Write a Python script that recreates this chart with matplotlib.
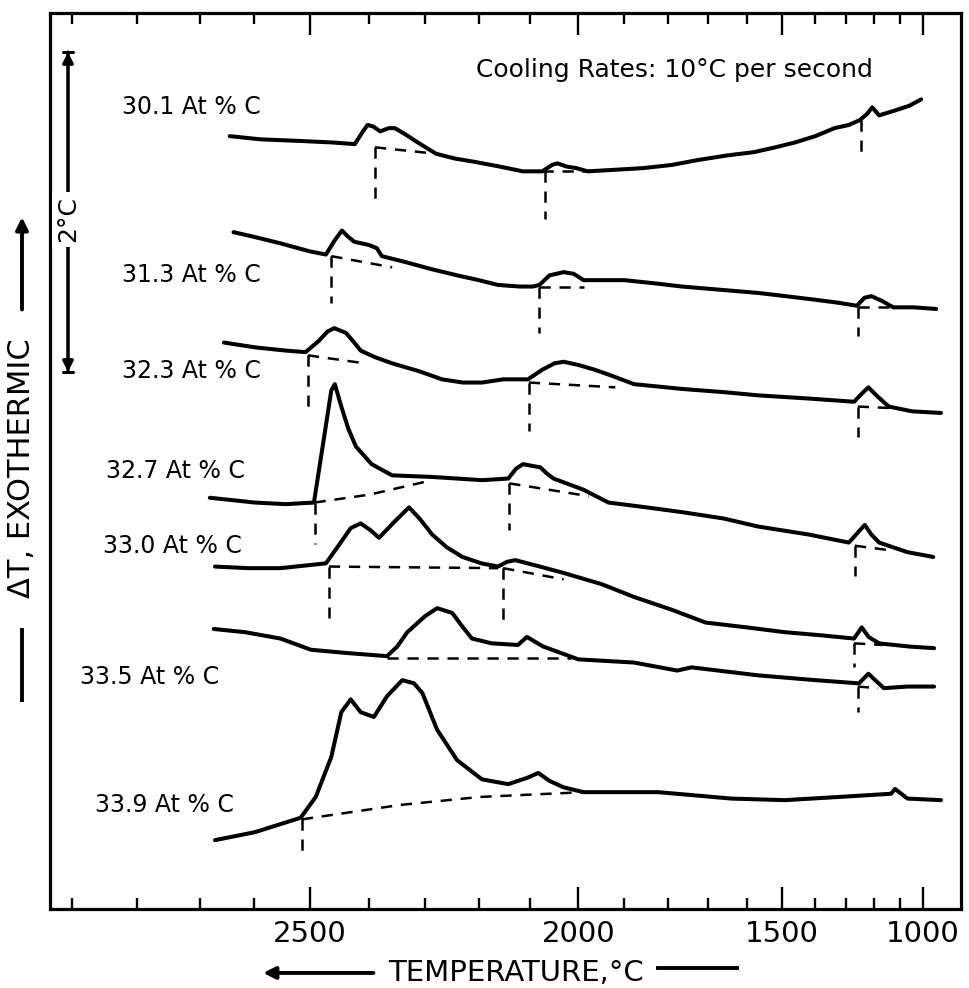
import numpy as np
import matplotlib
matplotlib.use("Agg")
import matplotlib.pyplot as plt
from matplotlib.transforms import blended_transform_factory

# DTA cooling curves, W-C alloys. Temperature in degC, dT in degC (offset per trace)

# the chart's temperature axis is not linear; T**2.1 reproduces the tick spacing
def fwd(t):
    t = np.asarray(t, dtype=float)
    return np.sign(t) * np.abs(t) ** 2.1

def inv(u):
    u = np.asarray(u, dtype=float)
    return np.sign(u) * np.abs(u) ** (1 / 2.1)

major_ticks = [2500, 2000, 1500, 1000]
minor_ticks = [2865, 2770, 2675, 2590, 2400, 2300, 2200, 2100, 1900, 1800,
               1700, 1600, 1400, 1300, 1200, 1100]

# ---- 30.1 At % C
T_301 = [2629, 2580, 2516, 2460, 2424, 2410, 2402, 2392, 2380, 2365, 2354, 2335,
         2313, 2280, 2245, 2209, 2160, 2114, 2075, 2055, 2044, 2025, 2004, 1980,
         1920, 1858, 1790, 1728, 1650, 1580, 1520, 1463, 1400, 1338, 1290, 1252,
         1225, 1207, 1181, 1120, 1060, 1008]
dT_301 = [4.83, 4.81, 4.80, 4.79, 4.78, 4.86, 4.90, 4.89, 4.86, 4.88, 4.88, 4.84,
          4.79, 4.72, 4.69, 4.67, 4.64, 4.61, 4.61, 4.65, 4.66, 4.64, 4.63, 4.61,
          4.62, 4.63, 4.65, 4.68, 4.71, 4.73, 4.76, 4.79, 4.83, 4.88, 4.90, 4.93,
          4.97, 5.01, 4.96, 4.99, 5.02, 5.06]
base_301 = [([2389, 2280], [4.76, 4.72]), ([2075, 1974], [4.61, 4.61])]
mark_301 = [(2389, 4.76, 4.43), (2069, 4.61, 4.31), (1248, 4.93, 4.73)]

# ---- 31.3 At % C
T_313 = [2623, 2590, 2548, 2500, 2473, 2458, 2446, 2435, 2425, 2400, 2386, 2377,
         2332, 2290, 2241, 2200, 2163, 2120, 2094, 2081, 2060, 2031, 2010, 1989,
         1900, 1830, 1765, 1670, 1568, 1490, 1410, 1330, 1262, 1235, 1210, 1170,
         1126, 1040, 938]
dT_313 = [4.23, 4.20, 4.16, 4.11, 4.09, 4.18, 4.24, 4.20, 4.17, 4.15, 4.13, 4.08,
          4.04, 4.00, 3.96, 3.93, 3.90, 3.89, 3.89, 3.90, 3.96, 3.98, 3.97, 3.93,
          3.93, 3.91, 3.89, 3.87, 3.85, 3.83, 3.81, 3.79, 3.77, 3.82, 3.83, 3.80,
          3.76, 3.76, 3.75]
base_313 = [([2464, 2359], [4.08, 4.01]), ([2081, 1989], [3.89, 3.89]),
            ([1259, 1144], [3.76, 3.76])]
mark_313 = [(2464, 4.08, 3.79), (2081, 3.89, 3.60), (1259, 3.76, 3.58)]

# ---- 32.3 At % C
T_323 = [2638, 2589, 2540, 2507, 2485, 2470, 2459, 2439, 2425, 2414, 2390, 2359,
         2310, 2269, 2230, 2194, 2153, 2104, 2075, 2050, 2031, 2000, 1965, 1935,
         1878, 1765, 1660, 1568, 1420, 1272, 1245, 1221, 1185, 1144, 1048, 914]
dT_323 = [3.54, 3.51, 3.49, 3.48, 3.55, 3.61, 3.63, 3.60, 3.54, 3.49, 3.45, 3.41,
          3.36, 3.31, 3.29, 3.29, 3.31, 3.31, 3.37, 3.41, 3.42, 3.40, 3.37, 3.34,
          3.28, 3.25, 3.23, 3.21, 3.19, 3.17, 3.22, 3.26, 3.20, 3.14, 3.11, 3.10]
base_323 = [([2503, 2407], [3.46, 3.41]), ([2102, 1920], [3.29, 3.26]),
            ([1259, 1130], [3.14, 3.13])]
mark_323 = [(2503, 3.46, 3.12), (2102, 3.29, 2.99), (1259, 3.14, 2.95)]

# ---- 32.7 At % C
T_327 = [2660, 2589, 2540, 2493, 2476, 2464, 2458, 2447, 2435, 2422, 2395, 2359,
         2287, 2194, 2143, 2128, 2114, 2079, 2065, 2052, 1989, 1935, 1850, 1765,
         1660, 1568, 1420, 1290, 1260, 1234, 1210, 1181, 1068, 952]
dT_327 = [2.57, 2.54, 2.53, 2.54, 2.95, 3.24, 3.28, 3.14, 3.00, 2.89, 2.78, 2.71,
          2.70, 2.68, 2.69, 2.75, 2.78, 2.76, 2.72, 2.69, 2.62, 2.54, 2.51, 2.48,
          2.44, 2.39, 2.34, 2.29, 2.35, 2.40, 2.34, 2.29, 2.23, 2.20]
base_327 = [([2492, 2398, 2287], [2.54, 2.59, 2.68]), ([2141, 1978], [2.66, 2.58]),
            ([1269, 1130], [2.27, 2.24])]
mark_327 = [(2492, 2.54, 2.28), (2141, 2.66, 2.37), (1269, 2.27, 2.08)]

# ---- 33.0 At % C
T_330 = [2652, 2600, 2548, 2473, 2450, 2431, 2414, 2398, 2382, 2355, 2329, 2310,
         2287, 2260, 2231, 2195, 2163, 2145, 2129, 2080, 2031, 1950, 1878, 1790,
         1707, 1600, 1493, 1380, 1272, 1245, 1220, 1181, 1060, 948]
dT_330 = [2.14, 2.13, 2.13, 2.16, 2.28, 2.38, 2.41, 2.37, 2.32, 2.42, 2.51, 2.44,
          2.34, 2.26, 2.20, 2.16, 2.14, 2.17, 2.18, 2.14, 2.10, 2.03, 1.95, 1.87,
          1.79, 1.76, 1.73, 1.71, 1.69, 1.76, 1.70, 1.66, 1.64, 1.63]
base_330 = [([2468, 2163], [2.14, 2.13]), ([2153, 2031], [2.13, 2.06]),
            ([1272, 1167], [1.66, 1.65])]
mark_330 = [(2468, 2.14, 1.82), (2153, 2.13, 1.79), (1272, 1.66, 1.51)]

# ---- 33.5 At % C
T_335 = [2654, 2630, 2605, 2548, 2498, 2439, 2368, 2350, 2332, 2300, 2278, 2250,
         2230, 2213, 2175, 2124, 2106, 2073, 2000, 1878, 1777, 1742, 1568, 1400,
         1255, 1221, 1163, 1068, 948]
dT_335 = [1.75, 1.74, 1.73, 1.69, 1.62, 1.60, 1.58, 1.64, 1.73, 1.83, 1.88, 1.85,
          1.76, 1.69, 1.66, 1.65, 1.70, 1.64, 1.56, 1.54, 1.49, 1.51, 1.46, 1.43,
          1.41, 1.47, 1.38, 1.39, 1.39]
base_335 = [([2368, 2015], [1.57, 1.57]), ([1259, 1185], [1.39, 1.38])]
mark_335 = [(1259, 1.39, 1.23)]

# ---- 33.9 At % C
T_339 = [2652, 2589, 2515, 2490, 2464, 2447, 2431, 2414, 2391, 2368, 2341, 2320,
         2305, 2278, 2241, 2194, 2143, 2105, 2083, 2060, 2031, 1989, 1822, 1641,
         1493, 1324, 1135, 1119, 1068, 914]
dT_339 = [0.43, 0.48, 0.57, 0.70, 0.95, 1.23, 1.31, 1.23, 1.20, 1.33, 1.43, 1.41,
          1.35, 1.12, 0.93, 0.81, 0.78, 0.82, 0.85, 0.80, 0.76, 0.73, 0.73, 0.69,
          0.68, 0.70, 0.72, 0.75, 0.69, 0.68]
base_339 = [([2513, 2345, 2198, 1989], [0.56, 0.65, 0.70, 0.73])]
mark_339 = [(2513, 0.56, 0.31)]

labels = ["30.1 At % C", "31.3 At % C", "32.3 At % C", "32.7 At % C",
          "33.0 At % C", "33.5 At % C", "33.9 At % C"]
label_y = [5.01, 3.96, 3.36, 2.74, 2.27, 1.45, 0.65]
label_x = [0.079, 0.079, 0.079, 0.062, 0.058, 0.033, 0.049]

traces = [(T_301, dT_301, base_301, mark_301),
          (T_313, dT_313, base_313, mark_313),
          (T_323, dT_323, base_323, mark_323),
          (T_327, dT_327, base_327, mark_327),
          (T_330, dT_330, base_330, mark_330),
          (T_335, dT_335, base_335, mark_335),
          (T_339, dT_339, base_339, mark_339)]

plt.rcParams['font.family'] = ['DejaVu Sans']

fig = plt.figure(figsize=(9.7, 9.88), dpi=100)
ax = fig.add_axes([0.0515, 0.080, 0.9392, 0.9069])
ax.set_xscale('function', functions=(fwd, inv))
ax.set_xlim(2896, 807)
ax.set_ylim(0, 5.6)

dash = (0, (4.5, 3.5))
for T, dT, bases, marks in traces:
    ax.plot(T, dT, color='black', lw=2.9, solid_joinstyle='round',
            solid_capstyle='round')
    for bt, bd in bases:
        ax.plot(bt, bd, color='black', lw=1.8, linestyle=dash)
    for t, top, bot in marks:
        ax.plot([t, t], [top, bot], color='black', lw=1.8, linestyle=dash)

trans = blended_transform_factory(ax.transAxes, ax.transData)
for txt, lx, ly in zip(labels, label_x, label_y):
    ax.text(lx, ly, txt, transform=trans, ha='left', va='center', fontsize=17)

ax.text(0.4676, 0.936, 'Cooling Rates: 10°C per second', transform=ax.transAxes,
        ha='left', va='center', fontsize=18)

# 2 degC scale bar
bar_x = 0.0198
bar_top, bar_bot = 5.356, 3.356
ax.annotate('', xy=(bar_x, bar_top), xytext=(bar_x, bar_bot), xycoords=trans,
            textcoords=trans,
            arrowprops=dict(arrowstyle='<|-|>', lw=2.2, color='black',
                            shrinkA=0, shrinkB=0, mutation_scale=16))
ax.annotate('', xy=(bar_x, bar_top), xytext=(bar_x, bar_bot), xycoords=trans,
            textcoords=trans,
            arrowprops=dict(arrowstyle='|-|,widthA=0.35,widthB=0.35', lw=2.2,
                            color='black', shrinkA=0, shrinkB=0))
ax.text(bar_x, 4.31, '2°C', transform=trans, rotation=90, ha='center',
        va='center', fontsize=18,
        bbox=dict(facecolor='white', edgecolor='none', pad=3))

# axes frame and ticks
for sp in ax.spines.values():
    sp.set_linewidth(2.3)
ax.set_yticks([])
ax.set_xticks(major_ticks)
ax.set_xticklabels([str(t) for t in major_ticks])
ax.set_xticks(minor_ticks, minor=True)
ax.tick_params(axis='x', which='major', direction='in', length=16, width=1.7,
               top=True, labelsize=21, pad=8)
ax.tick_params(axis='x', which='minor', direction='in', length=8, width=1.7,
               top=True)

# axis titles with their arrows
ax.text(0.371, -0.0714, 'TEMPERATURE,°C', transform=ax.transAxes, ha='left',
        va='center', fontsize=21)
ax.annotate('', xy=(0.234, -0.0714), xytext=(0.355, -0.0714),
            xycoords='axes fraction', textcoords='axes fraction',
            arrowprops=dict(arrowstyle='-|>', lw=2.8, color='black',
                            shrinkA=0, shrinkB=0, mutation_scale=18))
ax.plot([0.667, 0.754], [-0.066, -0.066], transform=ax.transAxes, color='black',
        lw=2.8, clip_on=False)

ax.text(-0.0307, 0.492, 'ΔT, EXOTHERMIC', transform=ax.transAxes, rotation=90,
        ha='center', va='center', fontsize=22)
ax.annotate('', xy=(-0.0307, 0.772), xytext=(-0.0307, 0.669),
            xycoords='axes fraction', textcoords='axes fraction',
            arrowprops=dict(arrowstyle='-|>', lw=2.8, color='black',
                            shrinkA=0, shrinkB=0, mutation_scale=18))
ax.plot([-0.0307, -0.0307], [0.311, 0.233], transform=ax.transAxes,
        color='black', lw=2.8, clip_on=False)

fig.savefig('out.png', dpi=100, facecolor='white')
